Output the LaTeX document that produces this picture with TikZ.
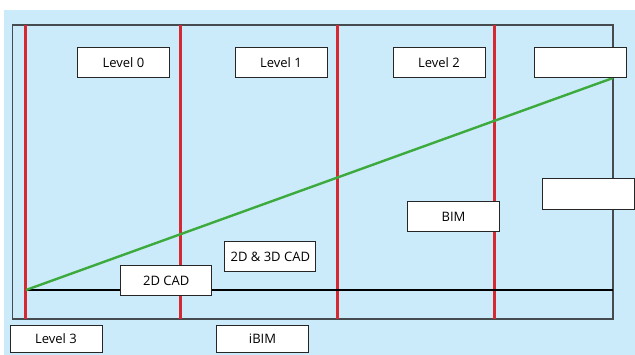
\documentclass[tikz,border=0pt]{standalone}
\usepackage{fontspec}
\setmainfont{Open Sans}
\definecolor{bgblue}{RGB}{204,235,250}
\definecolor{redl}{RGB}{214,40,48}
\definecolor{greenl}{RGB}{60,170,60}
\definecolor{framec}{RGB}{70,75,80}
\begin{document}
\begin{tikzpicture}[x=1pt,y=-1pt,
  box/.style={draw=black!85,line width=1pt,fill=white,minimum width=92pt,minimum height=30pt,inner sep=0pt,font=\fontsize{13}{15}\selectfont},
  lowbox/.style={box,minimum height=27pt},
  redline/.style={draw=redl,line width=3pt},
  baseline/.style={draw=black,line width=2.4pt},
  growline/.style={draw=greenl,line width=2.4pt}]
\useasboundingbox (0,0) rectangle (635,355);
\fill[white] (0,0) rectangle (635,355);
\fill[bgblue] (4,10) rectangle (635,355);
\draw[framec,line width=1.4pt] (12.5,25) rectangle (613,319);
% named coordinates
\foreach \n/\x in {a/25.5,b/180.5,c/337.5,d/494.5}{
  \coordinate (\n t) at (\x,25);
  \coordinate (\n b) at (\x,319);
}
\coordinate (o) at (26,290);
\coordinate (e) at (613,290);
\coordinate (g) at (613,78);
\foreach \n in {a,b,c,d}{\draw[redline] (\n t) -- (\n b);}
\draw[baseline] (o) -- (e);
\draw[growline] (o) -- (g);
% boxes
\node[box] (l0) at (123.5,62.5) {Level 0};
\node[box] (l1) at (281,62.5) {Level 1};
\node[box] (l2) at (439,62.5) {Level 2};
\node[box] (tr) at (580.3,62.5) {};
\node[box,minimum height=31pt] (rm) at (588,194.5) {};
\node[box] (bim) at (453.5,217) {BIM};
\node[box,minimum width=91pt] (cad23) at (270.3,256.7) {2D \& 3D CAD};
\node[box,minimum width=91pt] (cad2) at (166.3,281) {2D CAD};
\node[lowbox] (l3) at (56,339) {Level 3};
\node[lowbox] (ibim) at (262.5,339) {iBIM};
\end{tikzpicture}
\end{document}
